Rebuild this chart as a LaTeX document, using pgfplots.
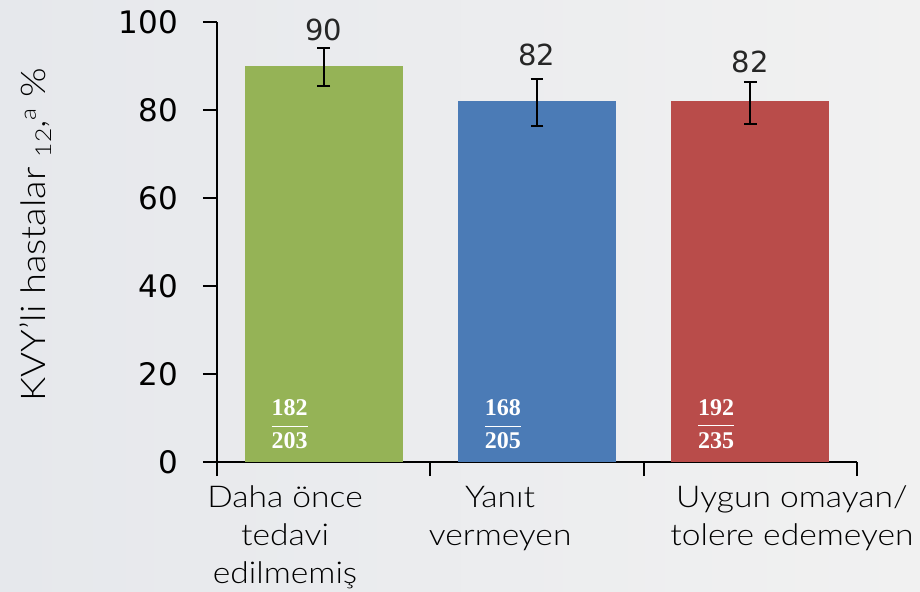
\documentclass[border=0pt]{standalone}
\usepackage{fontspec}
\setmainfont{Lato}
\newfontfamily\catfont[FakeStretch=1.12]{Lato Light}
\newfontfamily\tickfont{DejaVu Sans}
\newfontfamily\fracfont{Liberation Serif}
\usepackage{pgfplots}
\pgfplotsset{compat=1.18}
\definecolor{bgL}{HTML}{E6E8EC}
\definecolor{bgR}{HTML}{F1F1F1}
\definecolor{cGreen}{HTML}{95B356}
\definecolor{cBlue}{HTML}{4B7BB6}
\definecolor{cRed}{HTML}{B94C4A}
\newcommand\myfrac[2]{$\displaystyle\frac{\mbox{\fracfont\bfseries #1}}{\mbox{\fracfont\bfseries #2}}$}
\begin{document}
\begin{tikzpicture}[x=1pt,y=1pt]
\shade[left color=bgL, right color=bgR] (0,0) rectangle (460,295.5);
\useasboundingbox (0,0) rectangle (460,295.5);
\begin{axis}[
  at={(108.5pt,64.5pt)}, anchor=south west,
  scale only axis, width=320pt, height=220pt,
  xmin=-0.5, xmax=2.5, ymin=0, ymax=100,
  axis lines=left,
  axis line style={-, black, line width=0.9pt},
  x axis line style={shorten <=-6pt},
  tick style={black, line width=0.9pt},
  tick align=outside,
  ytick={0,20,...,100},
  y tick label style={font=\tickfont\fontsize{15.5}{15.5}\selectfont, xshift=-9pt},
  /pgf/number format/assume math mode=true,
  major tick length=7pt,
  xtick={-0.5,0.5,1.5,2.5},
  xticklabels={},
  extra x ticks={-0.181,0.827,2.195},
  extra x tick labels={Daha önce\\tedavi\\edilmemiş, Yanıt\\vermeyen, Uygun omayan/\\tolere edemeyen},
  extra x tick style={major tick length=0pt, tick style={draw=none},
    tick label style={font=\catfont\fontsize{15}{19}\selectfont, align=center, anchor=north, yshift=-8.5pt}},
  ylabel={KVY’li hastalar \raisebox{-0.35ex}{\fontsize{11}{11}\selectfont 12},\raisebox{0.55ex}{\fontsize{11}{11}\selectfont a} \%},
  ylabel style={font=\catfont\fontsize{17}{17}\selectfont, at={(axis description cs:-0.284,0.516)}, anchor=center},
  clip=false,
  error bars/error bar style={black, line width=1pt},
  error bars/error mark options={rotate=90, mark size=3.2pt, line width=1pt, black},
]
\addplot[ybar, bar width=0.74, bar shift=0pt, fill=cGreen, draw=none,
  error bars/.cd, y dir=both, y explicit]
  coordinates {(0,90) += (0,4.2) -= (0,4.6)};
\addplot[ybar, bar width=0.74, bar shift=0pt, fill=cBlue, draw=none,
  error bars/.cd, y dir=both, y explicit]
  coordinates {(1,82) += (0,5) -= (0,5.6)};
\addplot[ybar, bar width=0.74, bar shift=0pt, fill=cRed, draw=none,
  error bars/.cd, y dir=both, y explicit]
  coordinates {(2,82) += (0,4.4) -= (0,5.1)};
% value labels
\addplot[draw=none, mark=none, nodes near coords, point meta=explicit symbolic,
  nodes near coords align=center,
  every node near coord/.append style={font=\tickfont\fontsize{14.5}{14.5}\selectfont, anchor=center, text=black!85}]
  coordinates {(0,98.3)[90] (1,92.5)[82] (2,91)[82]};
% fractions
\addplot[draw=none, mark=none, nodes near coords={\myfrac{182}{203}}, nodes near coords align=center,
  every node near coord/.append style={font=\fontsize{12}{12}\selectfont, anchor=center, text=white}]
  coordinates {(-0.16,8.6)};
\addplot[draw=none, mark=none, nodes near coords={\myfrac{168}{205}}, nodes near coords align=center,
  every node near coord/.append style={font=\fontsize{12}{12}\selectfont, anchor=center, text=white}]
  coordinates {(0.84,8.6)};
\addplot[draw=none, mark=none, nodes near coords={\myfrac{192}{235}}, nodes near coords align=center,
  every node near coord/.append style={font=\fontsize{12}{12}\selectfont, anchor=center, text=white}]
  coordinates {(1.84,8.6)};
\end{axis}
\end{tikzpicture}
\end{document}
